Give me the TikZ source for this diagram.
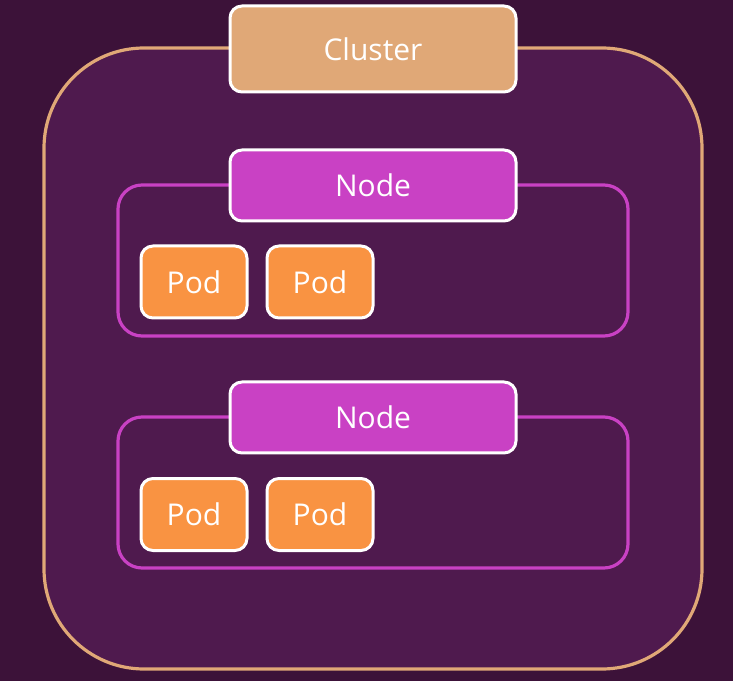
\documentclass[tikz,border=0pt]{standalone}
\usepackage{fontspec}
\setmainfont{Open Sans}
\definecolor{bgdark}{HTML}{3C1239}
\definecolor{bgframe}{HTML}{4F1A4E}
\definecolor{clustercol}{HTML}{E0A877}
\definecolor{nodecol}{HTML}{C941C4}
\definecolor{podcol}{HTML}{F99342}
\begin{document}
\begin{tikzpicture}[x=0.75pt,y=-0.75pt,
    frame/.style={line width=2.4pt,fill=bgframe},
    label/.style={draw=white,line width=2.25pt,rounded corners=9pt,text=white,inner sep=0pt,
      minimum width=214.5pt,font=\fontsize{22.5}{26}\selectfont},
    pod/.style={draw=white,line width=2.25pt,rounded corners=9pt,text=white,inner sep=0pt,
      fill=podcol,minimum width=79.5pt,minimum height=54pt,font=\fontsize{22.5}{26}\selectfont}]
    \fill[bgdark] (0,0) rectangle (733,681);
    \useasboundingbox (0,0) rectangle (733,681);
    % cluster
    \draw[frame,draw=clustercol,rounded corners=75pt] (44,48) rectangle (702,669);
    \node[label,fill=clustercol,minimum height=64.5pt] (cluster) at (373,49) {Cluster};
    % first node
    \draw[frame,draw=nodecol,rounded corners=18pt] (118,185) rectangle (628,336);
    \node[label,fill=nodecol,minimum height=53.25pt] (node1) at (373,185.5) {Node};
    \node[pod] (pod11) at (194,282) {Pod};
    \node[pod] (pod12) at (320,282) {Pod};
    % second node
    \draw[frame,draw=nodecol,rounded corners=18pt] (118,417) rectangle (628,568);
    \node[label,fill=nodecol,minimum height=53.25pt] (node2) at (373,417.5) {Node};
    \node[pod] (pod21) at (194,514.5) {Pod};
    \node[pod] (pod22) at (320,514.5) {Pod};
\end{tikzpicture}
\end{document}
